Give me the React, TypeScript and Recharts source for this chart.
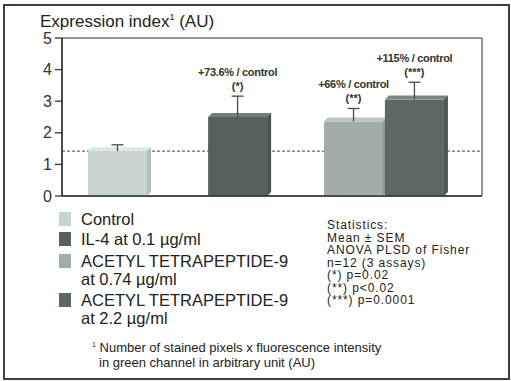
import { BarChart, Bar, XAxis, YAxis, CartesianGrid, ReferenceArea } from 'recharts'

// groups (also legend labels)
const groups = ['Control', 'IL-4 at 0.1 µg/ml', 'ACETYL TETRAPEPTIDE-9|at 0.74 µg/ml', 'ACETYL TETRAPEPTIDE-9|at 2.2 µg/ml']
// mean expression index (AU)
const means = [1.42, 2.5, 2.36, 3.05]
// SEM
const sems = [0.2, 0.66, 0.41, 0.55]
// labels above bars
const pctLabels = ['', '+73.6% / control', '+66% / control', '+115% / control']
const sigLabels = ['', '(*)', '(**)', '(***)']
const yTicks = [0, 1, 2, 3, 4, 5]
const statsLines = ['Statistics:', 'Mean ± SEM', 'ANOVA PLSD of Fisher', 'n=12 (3 assays)', '(*) p=0.02', '(**) p<0.02', '(***) p=0.0001']

// layout: where each bar sits along the floor (0-100)
const slots = [13.2, 41.8, 69.4, 83.9]
const fronts = ['#c9d3d2', '#55615e', '#a2acaa', '#5c6866']
const tops = ['#dfe6e5', '#727e7b', '#bcc5c3', '#7b8684']
const sides = ['#b3bebd', '#46514e', '#8e9896', '#4b5654']

const data = groups.map((g, i) => ({
  name: g,
  pos: slots[i],
  value: means[i],
  err: sems[i],
  pct: pctLabels[i],
  sig: sigLabels[i],
  idx: i,
}))

const FONT = '"Liberation Sans", Arial, sans-serif'

const Bar3D = (props: any) => {
  const { x, y, width, height, payload } = props
  const i = payload.idx
  const d = 4
  const cx = x + width / 2
  const errPx = (payload.err * height) / payload.value
  const errTop = y - errPx
  return (
    <g>
      <rect x={x} y={y} width={width} height={height} fill={fronts[i]} />
      <polygon
        points={`${x},${y} ${x + d},${y - d} ${x + width + d},${y - d} ${x + width},${y}`}
        fill={tops[i]}
      />
      <polygon
        points={`${x + width},${y} ${x + width + d},${y - d} ${x + width + d},${y + height - d} ${x + width},${y + height}`}
        fill={sides[i]}
      />
      <line x1={cx} y1={y} x2={cx} y2={errTop} stroke="#4a4a4a" strokeWidth={1.3} />
      <line x1={cx - 6} y1={errTop} x2={cx + 6} y2={errTop} stroke="#4a4a4a" strokeWidth={1.3} />
      {payload.pct && (
        <text x={cx} y={errTop - 20} textAnchor="middle" fontSize={11} fontWeight="bold" fill="#333" fontFamily={FONT} letterSpacing={-0.3}>
          {payload.pct}
        </text>
      )}
      {payload.sig && (
        <text x={cx} y={errTop - 6} textAnchor="middle" fontSize={11} fontWeight="bold" fill="#333" fontFamily={FONT}>
          {payload.sig}
        </text>
      )}
    </g>
  )
}

const legendTops = [210, 230, 252, 291]

export default function App() {
  return (
    <div style={{ position: 'absolute', left: 0, top: 0, width: 511, height: 381, background: '#fff', fontFamily: FONT, color: '#222' }}>
      <div style={{ position: 'absolute', left: 3, top: 4, width: 503, height: 372, border: '2px solid #3b4341' }} />
      <div style={{ position: 'absolute', left: 40, top: 12, fontSize: 17, whiteSpace: 'nowrap' }}>
        Expression index<sup style={{ fontSize: 9 }}>1</sup> (AU)
      </div>
      <div style={{ position: 'absolute', left: 0, top: 0 }}>
        <BarChart width={511} height={205} data={data} margin={{ top: 38, right: 29, bottom: 8, left: 0 }}>
          <CartesianGrid vertical={false} horizontal horizontalValues={[means[0]]} stroke="#444" strokeDasharray="3 2" />
          <XAxis type="number" dataKey="pos" domain={[0, 100]} height={1} tick={false} tickLine={false} axisLine={{ stroke: '#333', strokeWidth: 1.5 }} />
          <YAxis
            type="number"
            domain={[0, 5]}
            ticks={yTicks}
            width={62}
            tick={{ fontSize: 16, fill: '#333', fontFamily: FONT }}
            tickSize={7}
            tickMargin={3}
            tickLine={{ stroke: '#333', strokeWidth: 1.3 }}
            axisLine={{ stroke: '#333', strokeWidth: 1.5 }}
          />
          <ReferenceArea x1={0} x2={100} y1={0} y2={5} fill="none" stroke="#333" strokeWidth={1} />
          <Bar dataKey="value" barSize={59} shape={Bar3D} isAnimationActive={false} />
        </BarChart>
      </div>
      {groups.map((g, i) => (
        <div key={g} style={{ position: 'absolute', left: 59, top: legendTops[i], fontSize: 16.5, lineHeight: '18px', whiteSpace: 'nowrap' }}>
          <div style={{ position: 'absolute', left: 0, top: 2, width: 12, height: 14, background: fronts[i] }} />
          <div style={{ marginLeft: 22 }}>
            {g.split('|').map((l) => (
              <div key={l}>{l}</div>
            ))}
          </div>
        </div>
      ))}
      <div style={{ position: 'absolute', left: 327, top: 219, fontSize: 12, lineHeight: '12.5px', letterSpacing: 0.9, whiteSpace: 'nowrap' }}>
        {statsLines.map((l) => (
          <div key={l}>{l}</div>
        ))}
      </div>
      <div style={{ position: 'absolute', left: 92, top: 337, fontSize: 13, lineHeight: '15px', whiteSpace: 'nowrap' }}>
        <div>
          <sup style={{ fontSize: 7 }}>1</sup> Number of stained pixels x fluorescence intensity
        </div>
        <div style={{ marginLeft: 7 }}>in green channel in arbitrary unit (AU)</div>
      </div>
    </div>
  )
}
